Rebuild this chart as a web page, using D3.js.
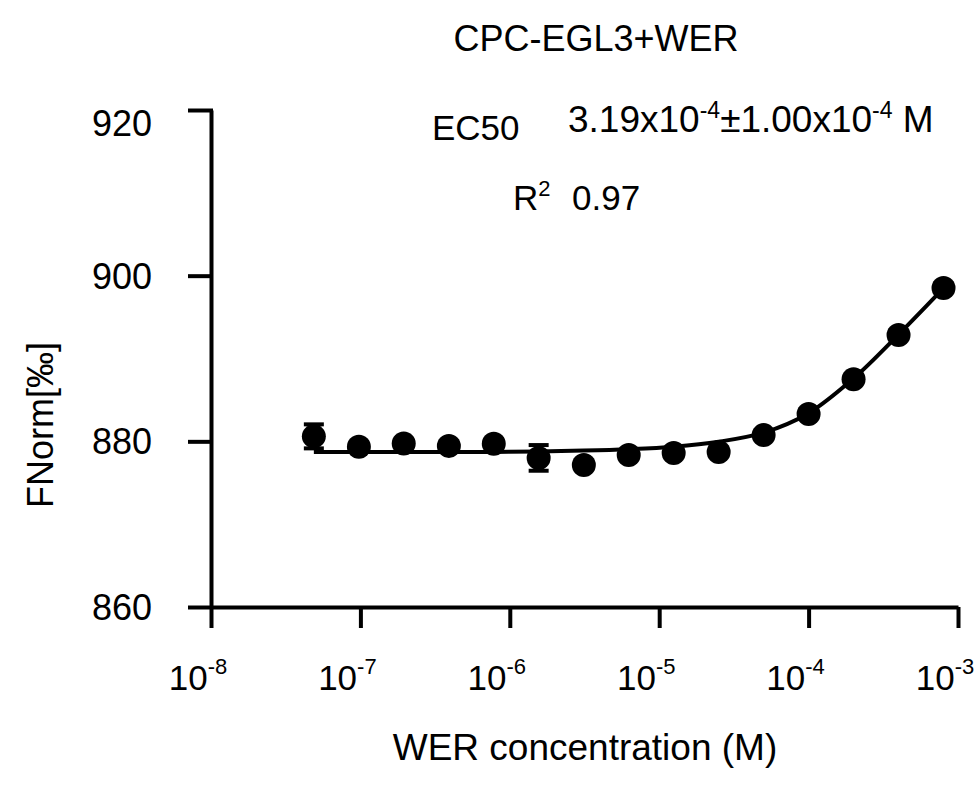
<!DOCTYPE html>
<html>
<head>
<meta charset="utf-8">
<script src="https://cdn.jsdelivr.net/npm/d3@7"></script>
<style>
  html, body { margin: 0; padding: 0; background: #fff; }
  svg text { font-family: "Liberation Sans", Arial, sans-serif; fill: #000; }
</style>
</head>
<body>
<svg id="chart" width="975" height="788"></svg>
<script>
// ---- data ----
const concentrations = [4.88e-8, 9.77e-8, 1.95e-7, 3.91e-7, 7.81e-7, 1.56e-6, 3.13e-6, 6.25e-6, 1.25e-5, 2.5e-5, 5e-5, 1e-4, 2e-4, 4e-4, 8e-4];
const fnorm = [880.6, 879.35, 879.75, 879.45, 879.7, 878.0, 877.15, 878.35, 878.6, 878.7, 880.75, 883.3, 887.5, 892.85, 898.5];
const fnormErr = [1.45, 0.3, 0.3, 0.3, 0.3, 1.55, 0.3, 0.3, 0.3, 0.3, 0.3, 0.3, 0.3, 0.3, 0.3];
const fitCurve = [878.7, 878.7, 878.7, 878.7, 878.72, 878.78, 878.88, 879.05, 879.35, 879.95, 881.05, 883.4, 887.6, 892.9, 898.5];
const yTicks = [860, 880, 900, 920];
const xTickExponents = [-8, -7, -6, -5, -4, -3];
const titleText = "CPC-EGL3+WER";
const xLabelText = "WER concentration (M)";
const yLabelText = "FNorm[‰]";

// ---- chart ----
const svg = d3.select("#chart");
const x = d3.scaleLog().domain([1e-8, 1e-3]).range([211, 958]);
const y = d3.scaleLinear().domain([860, 920]).range([607, 110]);
const SW = 4;

// y axis
const yAxis = svg.append("g").attr("transform", `translate(${x(1e-8)},0)`)
  .call(d3.axisLeft(y).tickValues(yTicks).tickSize(21).tickSizeOuter(0).tickFormat(""));
yAxis.selectAll("path, line").attr("stroke", "#000").attr("stroke-width", SW).attr("stroke-linecap", "square");
yAxis.select(".domain").attr("stroke-linecap", "butt");

// x axis
const xAxis = svg.append("g").attr("transform", `translate(0,${y(860)})`)
  .call(d3.axisBottom(x).tickValues(xTickExponents.map(e => Math.pow(10, e))).tickSize(21).tickSizeOuter(0).tickFormat(""));
xAxis.selectAll("path, line").attr("stroke", "#000").attr("stroke-width", SW);

// y tick labels
svg.append("g").selectAll("text").data(yTicks).join("text")
  .attr("x", 152).attr("y", d => y(d) + (d === 920 ? 13 : 0)).attr("dy", "0.36em")
  .attr("text-anchor", "end").attr("font-size", 36)
  .text(d => d);

// x tick labels with superscripts
const xl = svg.append("g").selectAll("text").data(xTickExponents).join("text")
  .attr("x", d => x(Math.pow(10, d)) - 13).attr("y", 690)
  .attr("text-anchor", "middle").attr("font-size", 35);
xl.append("tspan").text("10");
xl.append("tspan").attr("font-size", 22).attr("dy", -16).text(d => "-" + Math.abs(d));

// fit curve
const line = d3.line().x((d, i) => x(concentrations[i])).y(d => y(d)).curve(d3.curveCatmullRom.alpha(0.5));
svg.append("path").datum(fitCurve).attr("d", line)
  .attr("fill", "none").attr("stroke", "#000").attr("stroke-width", SW);

// error bars
const eb = svg.append("g").selectAll("g").data(fnorm).join("g");
eb.append("line")
  .attr("x1", (d, i) => x(concentrations[i])).attr("x2", (d, i) => x(concentrations[i]))
  .attr("y1", (d, i) => y(d - fnormErr[i])).attr("y2", (d, i) => y(d + fnormErr[i]))
  .attr("stroke", "#000").attr("stroke-width", SW);
[1, -1].forEach(s => {
  eb.append("line")
    .attr("x1", (d, i) => x(concentrations[i]) - 10).attr("x2", (d, i) => x(concentrations[i]) + 10)
    .attr("y1", (d, i) => y(d + s * fnormErr[i])).attr("y2", (d, i) => y(d + s * fnormErr[i]))
    .attr("stroke", "#000").attr("stroke-width", SW);
});

// points
svg.append("g").selectAll("circle").data(fnorm).join("circle")
  .attr("cx", (d, i) => x(concentrations[i])).attr("cy", d => y(d)).attr("r", 12)
  .attr("fill", "#000");

// title
svg.append("text").attr("x", 596).attr("y", 51).attr("text-anchor", "middle")
  .attr("font-size", 36).text(titleText);

// x label
svg.append("text").attr("x", 585).attr("y", 760).attr("text-anchor", "middle")
  .attr("font-size", 37).text(xLabelText);

// y label
svg.append("text").attr("transform", "translate(53,425) rotate(-90)")
  .attr("text-anchor", "middle").attr("font-size", 36).text(yLabelText);

// annotations
svg.append("text").attr("x", 432).attr("y", 140).attr("font-size", 35).text("EC50");
const ec = svg.append("text").attr("x", 568).attr("y", 132).attr("font-size", 37);
ec.append("tspan").text("3.19x10");
ec.append("tspan").attr("font-size", 23).attr("dy", -14).text("-4");
ec.append("tspan").attr("dy", 14).text("±1.00x10");
ec.append("tspan").attr("font-size", 23).attr("dy", -14).text("-4");
ec.append("tspan").attr("dy", 14).text(" M");

const r2 = svg.append("text").attr("x", 513).attr("y", 210).attr("font-size", 35);
r2.append("tspan").text("R");
r2.append("tspan").attr("font-size", 22).attr("dy", -14).text("2");
svg.append("text").attr("x", 572).attr("y", 210).attr("font-size", 35).text("0.97");
</script>
</body>
</html>
